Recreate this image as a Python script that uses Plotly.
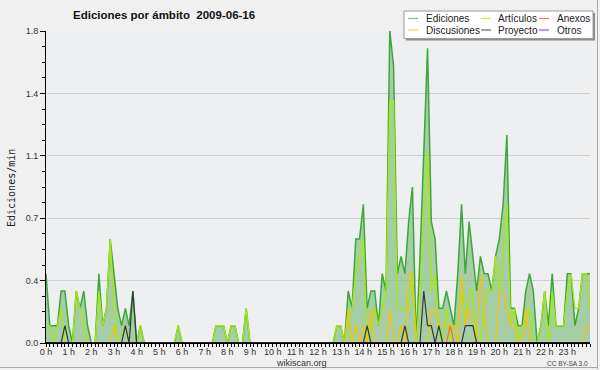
import plotly.graph_objects as go

# ---------------- data (edits per minute, 10-minute buckets, 00:00 .. 24:00) ----------------
hour_labels = ["0 h", "1 h", "2 h", "3 h", "4 h", "5 h", "6 h", "7 h", "8 h", "9 h", "10 h", "11 h",
               "12 h", "13 h", "14 h", "15 h", "16 h", "17 h", "18 h", "19 h", "20 h", "21 h", "22 h", "23 h"]
y_tick_values = [0.0, 0.36, 0.72, 1.08, 1.44, 1.8]
y_tick_labels = ["0.0", "0.4", "0.7", "1.1", "1.4", "1.8"]

ediciones = [
    0.4, 0.1, 0.1, 0.1, 0.3, 0.3, 0.1, 0.0, 0.3, 0.2, 0.3, 0.1,
    0.0, 0.0, 0.4, 0.1, 0.2, 0.6, 0.4, 0.2, 0.1, 0.2, 0.1, 0.3,
    0.0, 0.1, 0.0, 0.0, 0.0, 0.0, 0.0, 0.0, 0.0, 0.0, 0.0, 0.1,
    0.0, 0.0, 0.0, 0.0, 0.0, 0.0, 0.0, 0.0, 0.0, 0.1, 0.1, 0.1,
    0.0, 0.1, 0.1, 0.0, 0.0, 0.2, 0.0, 0.0, 0.0, 0.0, 0.0, 0.0,
    0.0, 0.0, 0.0, 0.0, 0.0, 0.0, 0.0, 0.0, 0.0, 0.0, 0.0, 0.0,
    0.0, 0.0, 0.0, 0.0, 0.0, 0.1, 0.1, 0.0, 0.3, 0.2, 0.6, 0.6,
    0.8, 0.2, 0.3, 0.3, 0.1, 0.4, 0.3, 1.8, 1.6, 0.4, 0.5, 0.4,
    0.7, 0.9, 0.0, 0.5, 1.1, 1.7, 0.7, 0.6, 0.2, 0.2, 0.3, 0.2,
    0.1, 0.4, 0.8, 0.4, 0.7, 0.5, 0.3, 0.5, 0.4, 0.4, 0.3, 0.5,
    0.6, 0.8, 1.2, 0.2, 0.2, 0.1, 0.1, 0.3, 0.4, 0.3, 0.0, 0.1,
    0.3, 0.1, 0.4, 0.1, 0.1, 0.1, 0.4, 0.4, 0.1, 0.2, 0.4, 0.4,
    0.4,
]
articulos = [
    0.1, 0.1, 0.0, 0.1, 0.2, 0.0, 0.0, 0.0, 0.3, 0.2, 0.1, 0.0,
    0.0, 0.0, 0.3, 0.1, 0.2, 0.6, 0.2, 0.0, 0.0, 0.1, 0.0, 0.0,
    0.0, 0.1, 0.0, 0.0, 0.0, 0.0, 0.0, 0.0, 0.0, 0.0, 0.0, 0.1,
    0.0, 0.0, 0.0, 0.0, 0.0, 0.0, 0.0, 0.0, 0.0, 0.1, 0.1, 0.1,
    0.0, 0.1, 0.1, 0.0, 0.0, 0.2, 0.0, 0.0, 0.0, 0.0, 0.0, 0.0,
    0.0, 0.0, 0.0, 0.0, 0.0, 0.0, 0.0, 0.0, 0.0, 0.0, 0.0, 0.0,
    0.0, 0.0, 0.0, 0.0, 0.0, 0.1, 0.1, 0.0, 0.1, 0.2, 0.4, 0.5,
    0.6, 0.0, 0.1, 0.2, 0.1, 0.2, 0.3, 1.4, 1.4, 0.2, 0.2, 0.2,
    0.2, 0.4, 0.0, 0.3, 0.7, 1.1, 0.3, 0.4, 0.1, 0.0, 0.2, 0.0,
    0.1, 0.1, 0.3, 0.1, 0.3, 0.3, 0.0, 0.0, 0.2, 0.3, 0.3, 0.5,
    0.3, 0.5, 0.8, 0.1, 0.2, 0.0, 0.1, 0.1, 0.2, 0.0, 0.0, 0.1,
    0.3, 0.0, 0.3, 0.1, 0.1, 0.1, 0.3, 0.4, 0.2, 0.2, 0.4, 0.4,
    0.2,
]
discusiones = [
    0.0, 0.0, 0.0, 0.0, 0.0, 0.0, 0.0, 0.0, 0.0, 0.0, 0.0, 0.0,
    0.0, 0.0, 0.0, 0.0, 0.0, 0.0, 0.1, 0.0, 0.0, 0.0, 0.0, 0.0,
    0.0, 0.0, 0.0, 0.0, 0.0, 0.0, 0.0, 0.0, 0.0, 0.0, 0.0, 0.0,
    0.0, 0.0, 0.0, 0.0, 0.0, 0.0, 0.0, 0.0, 0.0, 0.0, 0.0, 0.0,
    0.0, 0.0, 0.0, 0.0, 0.0, 0.0, 0.0, 0.0, 0.0, 0.0, 0.0, 0.0,
    0.0, 0.0, 0.0, 0.0, 0.0, 0.0, 0.0, 0.0, 0.0, 0.0, 0.0, 0.0,
    0.0, 0.0, 0.0, 0.0, 0.0, 0.0, 0.0, 0.0, 0.2, 0.0, 0.1, 0.0,
    0.1, 0.0, 0.2, 0.0, 0.0, 0.0, 0.0, 0.2, 0.0, 0.0, 0.1, 0.0,
    0.4, 0.4, 0.0, 0.0, 0.0, 0.0, 0.2, 0.2, 0.1, 0.1, 0.1, 0.1,
    0.1, 0.0, 0.4, 0.1, 0.2, 0.1, 0.0, 0.4, 0.2, 0.0, 0.0, 0.0,
    0.3, 0.3, 0.2, 0.1, 0.1, 0.0, 0.0, 0.2, 0.0, 0.0, 0.0, 0.0,
    0.0, 0.0, 0.0, 0.0, 0.0, 0.0, 0.0, 0.0, 0.0, 0.0, 0.0, 0.1,
    0.1,
]
anexos = [
    0.0, 0.0, 0.0, 0.0, 0.0, 0.0, 0.0, 0.0, 0.0, 0.0, 0.0, 0.0,
    0.0, 0.0, 0.0, 0.0, 0.0, 0.0, 0.0, 0.0, 0.0, 0.0, 0.0, 0.0,
    0.0, 0.0, 0.0, 0.0, 0.0, 0.0, 0.0, 0.0, 0.0, 0.0, 0.0, 0.0,
    0.0, 0.0, 0.0, 0.0, 0.0, 0.0, 0.0, 0.0, 0.0, 0.0, 0.0, 0.0,
    0.0, 0.0, 0.0, 0.0, 0.0, 0.0, 0.0, 0.0, 0.0, 0.0, 0.0, 0.0,
    0.0, 0.0, 0.0, 0.0, 0.0, 0.0, 0.0, 0.0, 0.0, 0.0, 0.0, 0.0,
    0.0, 0.0, 0.0, 0.0, 0.0, 0.0, 0.0, 0.0, 0.0, 0.0, 0.0, 0.0,
    0.0, 0.0, 0.0, 0.0, 0.0, 0.0, 0.0, 0.0, 0.0, 0.0, 0.0, 0.0,
    0.0, 0.0, 0.0, 0.0, 0.0, 0.0, 0.0, 0.0, 0.0, 0.0, 0.0, 0.1,
    0.0, 0.0, 0.0, 0.0, 0.0, 0.0, 0.0, 0.0, 0.0, 0.0, 0.0, 0.0,
    0.0, 0.0, 0.0, 0.0, 0.0, 0.0, 0.0, 0.0, 0.0, 0.0, 0.0, 0.0,
    0.0, 0.0, 0.0, 0.0, 0.0, 0.0, 0.0, 0.0, 0.0, 0.0, 0.0, 0.0,
    0.0,
]
proyecto = [
    0.0, 0.0, 0.0, 0.0, 0.0, 0.1, 0.0, 0.0, 0.0, 0.0, 0.0, 0.0,
    0.0, 0.0, 0.0, 0.0, 0.0, 0.0, 0.0, 0.0, 0.0, 0.1, 0.0, 0.3,
    0.0, 0.0, 0.0, 0.0, 0.0, 0.0, 0.0, 0.0, 0.0, 0.0, 0.0, 0.0,
    0.0, 0.0, 0.0, 0.0, 0.0, 0.0, 0.0, 0.0, 0.0, 0.0, 0.0, 0.0,
    0.0, 0.0, 0.0, 0.0, 0.0, 0.0, 0.0, 0.0, 0.0, 0.0, 0.0, 0.0,
    0.0, 0.0, 0.0, 0.0, 0.0, 0.0, 0.0, 0.0, 0.0, 0.0, 0.0, 0.0,
    0.0, 0.0, 0.0, 0.0, 0.0, 0.0, 0.0, 0.0, 0.0, 0.0, 0.0, 0.0,
    0.0, 0.1, 0.0, 0.0, 0.0, 0.0, 0.0, 0.0, 0.0, 0.0, 0.0, 0.1,
    0.0, 0.0, 0.0, 0.0, 0.3, 0.1, 0.1, 0.0, 0.1, 0.0, 0.0, 0.0,
    0.0, 0.0, 0.0, 0.1, 0.1, 0.1, 0.0, 0.0, 0.0, 0.0, 0.0, 0.0,
    0.0, 0.0, 0.0, 0.0, 0.0, 0.0, 0.0, 0.0, 0.0, 0.0, 0.0, 0.0,
    0.0, 0.0, 0.0, 0.0, 0.0, 0.0, 0.0, 0.0, 0.0, 0.0, 0.0, 0.0,
    0.0,
]
otros = [0.0] * 145

minutes = [10 * i for i in range(len(ediciones))]   # time of each bucket, in minutes

# ---------------- figure ----------------
W, H = 600, 370
L, R, T, B = 46, 10, 31, 27
PW, PH = W - L - R, H - T - B


def px(xp):   # pixel x -> paper x
    return (xp - L) / PW


def py(yp):   # pixel y -> paper y
    return (H - B - yp) / PH


fig = go.Figure()
fig.add_trace(go.Scatter(x=minutes, y=ediciones, name="Ediciones", mode="lines",
                         line=dict(color="#3aa93a", width=1.5), fill="tozeroy",
                         fillcolor="rgba(120,185,120,0.62)"))
fig.add_trace(go.Scatter(x=minutes, y=articulos, name="Artículos", mode="lines",
                         line=dict(color="#a8e80c", width=1.3)))
fig.add_trace(go.Scatter(x=minutes, y=discusiones, name="Discusiones", mode="lines",
                         line=dict(color="#f7c20a", width=1.2)))
fig.add_trace(go.Scatter(x=minutes, y=anexos, name="Anexos", mode="lines",
                         line=dict(color="#ff6a2a", width=1.2)))
fig.add_trace(go.Scatter(x=minutes, y=proyecto, name="Proyecto", mode="lines",
                         line=dict(color="#383838", width=1.2)))
fig.add_trace(go.Scatter(x=minutes, y=otros, name="Otros", mode="lines",
                         line=dict(color="#9a40ff", width=1.0)))

tick_font = dict(family="Liberation Sans, Arial, sans-serif", size=9, color="#333333")

fig.update_layout(
    width=W, height=H,
    margin=dict(l=L, r=R, t=T, b=B, pad=0),
    paper_bgcolor="#f0f0f0",
    plot_bgcolor="#eeeff1",
    showlegend=False,
    xaxis=dict(range=[0, 1440], tickmode="array", tickvals=[60 * h for h in range(24)],
               ticktext=hour_labels, ticks="outside", ticklen=3, tickcolor="#000",
               showline=True, linecolor="#000", linewidth=1, showgrid=False,
               zeroline=False, tickfont=tick_font, ticklabelstandoff=-3,
               minor=dict(tickmode="linear", tick0=0, dtick=10, ticks="outside",
                          ticklen=3, tickcolor="#000", showgrid=False)),
    yaxis=dict(range=[0, 1.8], tickmode="array", tickvals=y_tick_values,
               ticktext=y_tick_labels, ticks="outside", ticklen=5, tickcolor="#000",
               showline=True, linecolor="#000", linewidth=1, showgrid=True,
               gridcolor="#cfcfcf", gridwidth=1, zeroline=False, tickfont=tick_font,
               minor=dict(tickmode="linear", tick0=0, dtick=0.09, ticks="outside",
                          ticklen=3, tickcolor="#000", showgrid=False)),
)

# black baseline over the zero level (hides the zero-valued series, as in the original)
fig.add_shape(type="line", xref="paper", yref="y", x0=0, x1=1, y0=0, y1=0,
              line=dict(color="#000", width=1.6), layer="above")

# ---------------- texts ----------------
fig.add_annotation(text="<b>Ediciones por ámbito\u00a0\u00a02009-06-16</b>", xref="paper", yref="paper",
                   x=px(164), y=py(15), xanchor="center", yanchor="middle", showarrow=False,
                   font=dict(family="Liberation Sans, Arial, sans-serif", size=11.5, color="#111"))
fig.add_annotation(text="Ediciones/min", xref="paper", yref="paper", textangle=-90,
                   x=px(11), y=py(188), xanchor="center", yanchor="middle", showarrow=False,
                   font=dict(family="DejaVu Sans Mono, monospace", size=10, color="#222"))
fig.add_annotation(text="wikiscan.org", xref="paper", yref="paper",
                   x=px(301), y=py(363), xanchor="center", yanchor="middle", showarrow=False,
                   font=dict(family="Liberation Sans, Arial, sans-serif", size=9, color="#333"))
fig.add_annotation(text="CC BY-SA 3.0", xref="paper", yref="paper",
                   x=px(590), y=py(363.5), xanchor="right", yanchor="middle", showarrow=False,
                   font=dict(family="Liberation Sans, Arial, sans-serif", size=6.5, color="#444"))

# ---------------- legend (drawn by hand to match the 3-column box) ----------------
fig.add_shape(type="rect", xref="paper", yref="paper", x0=px(406), x1=px(595), y0=py(40.5), y1=py(13),
              fillcolor="#8c8c8c", line=dict(width=0), layer="above")
fig.add_shape(type="rect", xref="paper", yref="paper", x0=px(404), x1=px(593), y0=py(38.5), y1=py(11),
              fillcolor="#ffffff", line=dict(color="#9a9a9a", width=1), layer="above")

legend_items = [
    ("Ediciones", "#6ccb6c", 408, 424, 18.5),
    ("Artículos", "#c8ee3c", 481, 496, 18.5),
    ("Anexos", "#ff7a44", 539, 555, 18.5),
    ("Discusiones", "#ffcc33", 408, 424, 30),
    ("Proyecto", "#666666", 481, 496, 30),
    ("Otros", "#9a48ff", 539, 555, 30),
]
for name, color, lx, tx, ly in legend_items:
    fig.add_shape(type="line", xref="paper", yref="paper", x0=px(lx), x1=px(lx + 10),
                  y0=py(ly), y1=py(ly), line=dict(color=color, width=1.2), layer="above")
    fig.add_annotation(text=name, xref="paper", yref="paper", x=px(tx), y=py(ly),
                       xanchor="left", yanchor="middle", showarrow=False,
                       font=dict(family="Liberation Sans, Arial, sans-serif", size=10, color="#222"))

# outer frame (right and bottom edges)
fig.add_shape(type="line", xref="paper", yref="paper", x0=px(597.5), x1=px(597.5), y0=py(369), y1=py(0),
              line=dict(color="#a8a8a8", width=1))
fig.add_shape(type="line", xref="paper", yref="paper", x0=px(0), x1=px(598), y0=py(367.5), y1=py(367.5),
              line=dict(color="#a8a8a8", width=1))

fig.write_html("out.html", config={"displayModeBar": False},
               post_script="document.body.style.margin='0';document.body.style.overflow='hidden';")
